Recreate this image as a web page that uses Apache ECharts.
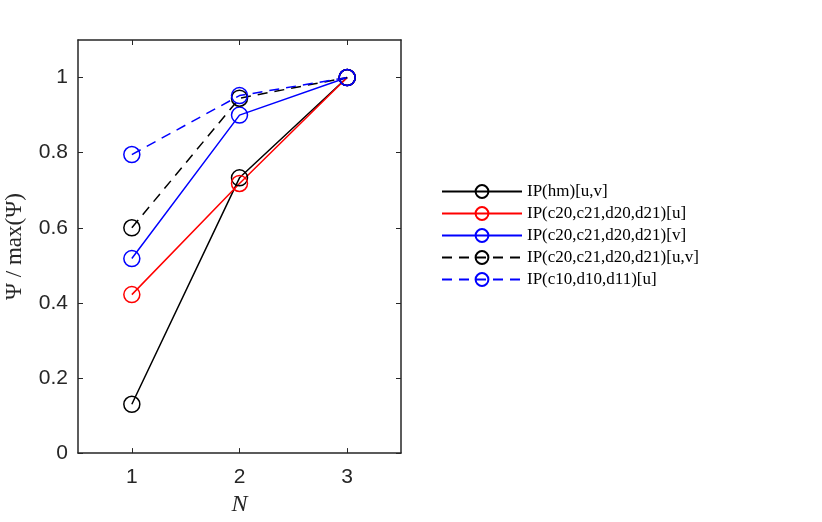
<!DOCTYPE html>
<html><head><meta charset="utf-8">
<script src="https://cdn.jsdelivr.net/npm/echarts@6/dist/echarts.min.js"></script>
<style>html,body{margin:0;padding:0;background:#fff}#c{width:822px;height:522px}</style>
</head><body><div id="c"></div>
<script>
const nValues = [1, 2, 3];
const xTicks = [1, 2, 3];
const yTicks = [0, 0.2, 0.4, 0.6, 0.8, 1];
const seriesNames = ['IP(hm)[u,v]', 'IP(c20,c21,d20,d21)[u]', 'IP(c20,c21,d20,d21)[v]', 'IP(c20,c21,d20,d21)[u,v]', 'IP(c10,d10,d11)[u]'];
const hmUV = [0.13, 0.733, 1];
const c20U = [0.422, 0.718, 1];
const c20V = [0.518, 0.90, 1];
const c20UV = [0.60, 0.945, 1];
const c10U = [0.795, 0.952, 1];
const seriesValues = [hmUV, c20U, c20V, c20UV, c10U];
const colors = ['#000000', '#ff0000', '#0000ff', '#000000', '#0000ff'];
const dashed = [false, false, false, true, true];

const chart = echarts.init(document.getElementById('c'));
const axisLine = {show: true, onZero: false, lineStyle: {color: '#262626', width: 1.5}};
const tick = (vals) => ({show: true, inside: true, length: 5, customValues: vals, lineStyle: {color: '#262626', width: 1}});
chart.setOption({
  animation: false,
  grid: {left: 78, right: 421, top: 40, bottom: 67},
  legend: {
    orient: 'vertical', left: 436, top: 178,
    itemWidth: 80, itemHeight: 16, itemGap: 5,
    textStyle: {fontFamily: 'Liberation Serif', fontSize: 17, color: '#000'},
    data: seriesNames
  },
  xAxis: [
    {
      type: 'value', min: 0.5, max: 3.5, position: 'bottom',
      axisLine: axisLine, axisTick: tick(xTicks), splitLine: {show: false},
      axisLabel: {customValues: xTicks, fontFamily: 'Liberation Sans', fontSize: 21, color: '#262626', margin: 14},
      name: 'N', nameLocation: 'middle', nameGap: 38,
      nameTextStyle: {fontFamily: 'Liberation Serif', fontStyle: 'italic', fontSize: 24, color: '#262626'}
    },
    {
      type: 'value', min: 0.5, max: 3.5, position: 'top',
      axisLine: axisLine, axisTick: tick(xTicks), splitLine: {show: false},
      axisLabel: {show: false}
    }
  ],
  yAxis: [
    {
      type: 'value', min: 0, max: 1.1, position: 'left',
      axisLine: axisLine, axisTick: tick(yTicks), splitLine: {show: false},
      axisLabel: {customValues: yTicks, fontFamily: 'Liberation Sans', fontSize: 21, color: '#262626', margin: 10},
      name: 'Ψ / max(Ψ)', nameLocation: 'middle', nameGap: 52, nameRotate: 90,
      nameTextStyle: {fontFamily: 'Liberation Serif', fontSize: 23, color: '#262626'}
    },
    {
      type: 'value', min: 0, max: 1.1, position: 'right',
      axisLine: axisLine, axisTick: tick(yTicks), splitLine: {show: false},
      axisLabel: {show: false}
    }
  ],
  series: seriesNames.map((name, i) => ({
    name: name, type: 'line',
    data: nValues.map((n, j) => [n, seriesValues[i][j]]),
    symbol: 'circle', symbolSize: 16,
    color: colors[i],
    itemStyle: {color: 'rgba(255,255,255,0)', borderColor: colors[i], borderWidth: 1.5},
    lineStyle: {color: colors[i], width: 1.5, type: dashed[i] ? [10, 7] : 'solid'}
  }))
});
</script></body></html>
